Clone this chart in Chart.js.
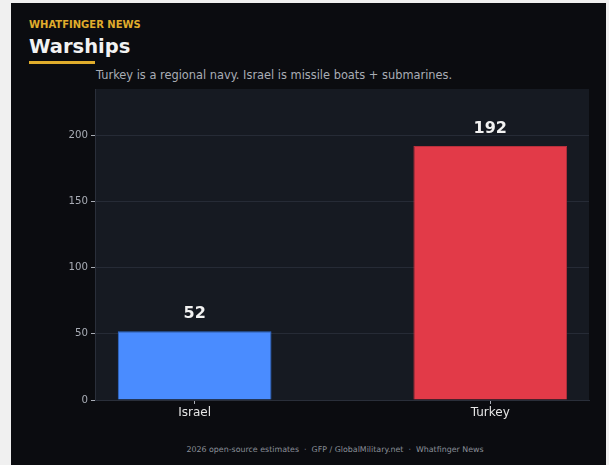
<!DOCTYPE html>
<html>
<head>
<meta charset="utf-8">
<script src="https://cdn.jsdelivr.net/npm/chart.js"></script>
<style>
  html, body { margin: 0; padding: 0; background: #f0f0f0; width: 609px; height: 465px; overflow: hidden; }
  #card { position: absolute; left: 11px; top: 3px; width: 595px; height: 462px; background: #0b0c10; }
  .txt { position: absolute; font-family: "DejaVu Sans", sans-serif; white-space: nowrap; }
  #kicker { left: 29px; top: 19px; font-size: 10px; font-weight: bold; color: #e0ad2c; }
  #title { left: 29px; top: 35px; font-size: 19.5px; font-weight: bold; color: #f2f2f2; }
  #rule { position: absolute; left: 29px; top: 61px; width: 66px; height: 3px; background: #e0ad2c; }
  #sub { left: 96px; top: 68px; font-size: 11.4px; color: #a9adb5; }
  #foot { left: 0; width: 670px; text-align: center; top: 445px; font-size: 7.9px; color: #8a8f98; }
  #wrap { position: absolute; left: 0; top: 0; width: 609px; height: 465px; }
</style>
</head>
<body>
<div id="card"></div>
<div class="txt" id="kicker">WHATFINGER NEWS</div>
<div class="txt" id="title">Warships</div>
<div id="rule"></div>
<div class="txt" id="sub">Turkey is a regional navy. Israel is missile boats + submarines.</div>
<div class="txt" id="foot">2026 open-source estimates &nbsp;·&nbsp; GFP / GlobalMilitary.net &nbsp;·&nbsp; Whatfinger News</div>
<div id="wrap"><canvas id="myChart"></canvas></div>

<script>
    // Datos del grafico
    var categories = ['Israel', 'Turkey'];
    var warships = [52, 192];
    var barColors = ['#4a8cff', '#e23a48'];
    var barBorders = ['#2f6cd0', '#b8303c'];
    var yTicks = [0, 50, 100, 150, 200];

    // Fondo del area del grafico
    var plotBg = {
        id: 'plotBg',
        beforeDraw: function(chart) {
            var a = chart.chartArea, c = chart.ctx;
            c.save();
            c.fillStyle = '#161a22';
            c.fillRect(a.left, a.top, a.right - a.left, a.bottom - a.top);
            c.restore();
        }
    };

    // Etiquetas de valor encima de las barras
    var valueLabels = {
        id: 'valueLabels',
        afterDatasetsDraw: function(chart) {
            var c = chart.ctx;
            var meta = chart.getDatasetMeta(0);
            c.save();
            c.font = 'bold 16px "DejaVu Sans"';
            c.fillStyle = '#f2f2f2';
            c.textAlign = 'center';
            c.textBaseline = 'middle';
            meta.data.forEach(function(bar, i) {
                c.fillText(String(warships[i]), bar.x, bar.y - 17);
            });
            c.restore();
        }
    };

    var ctx = document.getElementById('myChart').getContext('2d');
    var myChart = new Chart(ctx, {
        type: 'bar',
        data: {
            datasets: [{
                data: warships.map(function(v, i) { return { x: i, y: v }; }),
                backgroundColor: barColors,
                borderColor: barBorders,
                borderWidth: 1,
                barPercentage: 0.52,
                categoryPercentage: 1
            }]
        },
        options: {
            responsive: true,
            maintainAspectRatio: false,
            animation: false,
            layout: { padding: { top: 89, right: 20, left: 0, bottom: 0 } },
            plugins: { legend: { display: false }, tooltip: { enabled: false } },
            scales: {
                x: {
                    type: 'linear',
                    offset: false,
                    min: -0.337,
                    max: 1.334,
                    afterBuildTicks: function(scale) {
                        scale.ticks = categories.map(function(c, i) { return { value: i }; });
                    },
                    afterFit: function(scale) { scale.height = 65; },
                    ticks: {
                        callback: function(v) { return categories[v]; },
                        color: '#e6e6e6',
                        font: { family: 'DejaVu Sans', size: 12 },
                        padding: 2,
                        maxRotation: 0
                    },
                    grid: { offset: false, drawOnChartArea: false, drawTicks: true, tickLength: 4, tickColor: '#a8acb5' },
                    border: { display: true, color: '#2a2f3a' }
                },
                y: {
                    min: 0,
                    max: 235,
                    afterBuildTicks: function(scale) {
                        scale.ticks = yTicks.map(function(v) { return { value: v }; });
                    },
                    afterFit: function(scale) { scale.width = 95; },
                    ticks: {
                        color: '#a8acb5',
                        font: { family: 'DejaVu Sans', size: 10.2 },
                        padding: 3
                    },
                    grid: { color: '#262b36', lineWidth: 1, tickLength: 4, tickColor: '#a8acb5' },
                    border: { display: true, color: '#2a2f3a' }
                }
            }
        },
        plugins: [plotBg, valueLabels]
    });
</script>
</body>
</html>
